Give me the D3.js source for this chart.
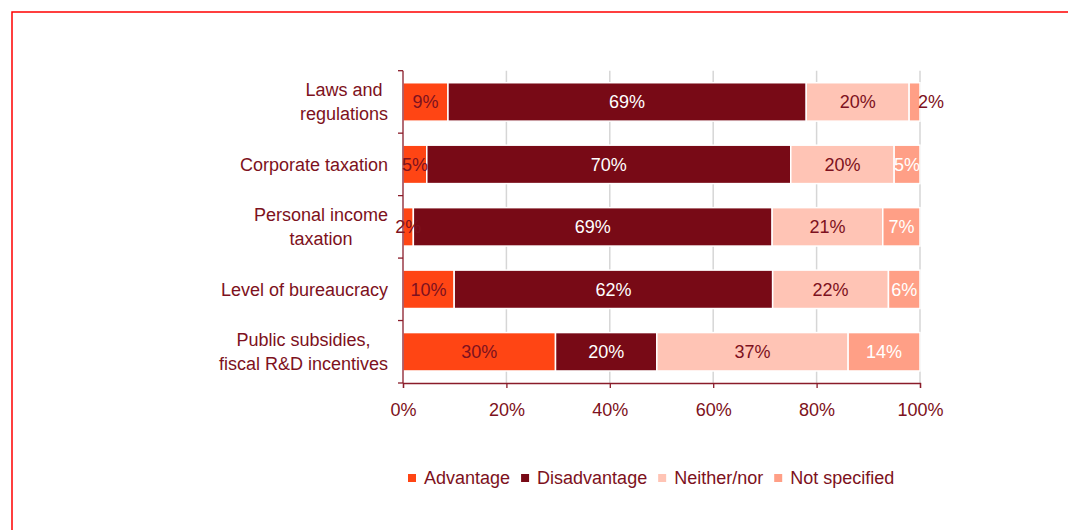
<!DOCTYPE html>
<html>
<head>
<meta charset="utf-8">
<script src="https://cdn.jsdelivr.net/npm/d3@7"></script>
<style>
  html, body { margin: 0; padding: 0; background: #fff; }
  svg { display: block; font-family: "Liberation Sans", Arial, sans-serif; }
</style>
</head>
<body>
<svg id="chart" width="1068" height="530"></svg>
<script>
// Category labels (each entry is a list of text lines)
const categories = [
  ["Laws and", "regulations"],
  ["Corporate taxation"],
  ["Personal income", "taxation"],
  ["Level of bureaucracy"],
  ["Public subsidies,", "fiscal R&D incentives"]
];
const seriesNames = ["Advantage", "Disadvantage", "Neither/nor", "Not specified"];
// Shares in percent, one value per category
const advantage    = [8.7, 4.6, 2.0, 9.9, 29.5];
const disadvantage = [69.3, 70.4, 69.4, 61.6, 19.6];
const neitherNor   = [19.9, 20.0, 21.4, 22.4, 37.0];
const notSpecified = [2.1, 5.0, 7.2, 6.1, 13.9];
const xTicks = [0, 20, 40, 60, 80, 100];

const colors = ["#ff4514", "#780a16", "#ffc4b5", "#ff9f86"];
const labelColors = ["#7d1120", "#ffffff", "#7d1120", "#ffffff"];
const textColor = "#7d1120";
const fontSize = 18;

const svg = d3.select("#chart");

// frame
svg.append("rect")
  .attr("x", 12).attr("y", 12)
  .attr("width", 1100).attr("height", 560)
  .attr("fill", "none").attr("stroke", "#ff0000").attr("stroke-width", 1.5);

const plot = { left: 403, right: 920, top: 70.7, bottom: 383 };

const x = d3.scaleLinear().domain([0, 100]).range([plot.left, plot.right]);
const y = d3.scaleBand()
  .domain(d3.range(categories.length))
  .range([plot.top, plot.bottom])
  .paddingInner(0.385)
  .paddingOuter(0.385 / 2);

const rows = categories.map((c, i) => ({
  i,
  "Advantage": advantage[i],
  "Disadvantage": disadvantage[i],
  "Neither/nor": neitherNor[i],
  "Not specified": notSpecified[i]
}));
const stacked = d3.stack().keys(seriesNames)(rows);

// vertical gridlines
svg.append("g").selectAll("line")
  .data(xTicks.filter(t => t > 0))
  .join("line")
  .attr("x1", d => x(d)).attr("x2", d => x(d))
  .attr("y1", plot.top).attr("y2", plot.bottom)
  .attr("stroke", "#d6d6d6").attr("stroke-width", 1.5);

// bars
const layers = svg.append("g").selectAll("g")
  .data(stacked)
  .join("g")
  .attr("fill", (d, k) => colors[k]);

layers.selectAll("rect")
  .data(d => d)
  .join("rect")
  .attr("x", d => x(d[0]))
  .attr("y", d => y(d.data.i))
  .attr("width", d => x(d[1]) - x(d[0]))
  .attr("height", y.bandwidth())
  .attr("stroke", "#ffffff")
  .attr("stroke-width", 1.5);

// value labels; a narrow last segment gets its label just past the bar end
const labelG = svg.append("g")
  .attr("font-size", fontSize);
stacked.forEach((layer, k) => {
  const isLast = k === stacked.length - 1;
  layer.forEach(d => {
    const v = d[1] - d[0];
    const txt = Math.round(v) + "%";
    const t = labelG.append("text")
      .attr("y", y(d.data.i) + y.bandwidth() / 2)
      .attr("dy", "0.35em")
      .text(txt);
    const w = t.node().getComputedTextLength();
    const segW = x(d[1]) - x(d[0]);
    if (isLast && w > segW * 1.6) {
      t.attr("x", x(d[1]) - 2).attr("text-anchor", "start").attr("fill", textColor);
    } else {
      t.attr("x", (x(d[0]) + x(d[1])) / 2).attr("text-anchor", "middle").attr("fill", labelColors[k]);
    }
  });
});

// y axis line and boundary ticks
const axisG = svg.append("g").attr("stroke", "#8a1c2a").attr("stroke-width", 1.3);
axisG.append("line")
  .attr("x1", plot.left).attr("x2", plot.left)
  .attr("y1", plot.top).attr("y2", plot.bottom);
axisG.selectAll("line.yt")
  .data(d3.range(categories.length + 1))
  .join("line")
  .attr("class", "yt")
  .attr("x1", plot.left - 5).attr("x2", plot.left)
  .attr("y1", i => plot.top + i * y.step())
  .attr("y2", i => plot.top + i * y.step());

// x axis
const xAxis = d3.axisBottom(x)
  .tickValues(xTicks)
  .tickSize(5)
  .tickPadding(15)
  .tickFormat(d => d + "%");
const xg = svg.append("g")
  .attr("transform", `translate(0,${plot.bottom})`)
  .call(xAxis);
xg.select(".domain").attr("stroke", "#8a1c2a").attr("stroke-width", 1.3);
xg.selectAll(".tick line").attr("stroke", "#8a1c2a").attr("stroke-width", 1.3);
xg.selectAll(".tick text")
  .attr("fill", textColor)
  .attr("font-size", fontSize)
  .attr("font-family", "Liberation Sans, Arial, sans-serif");

// category labels
const catG = svg.append("g").attr("font-size", fontSize).attr("fill", textColor);
const labelRight = 388;
categories.forEach((lines, i) => {
  const cy = y(i) + y.bandwidth() / 2;
  const g = catG.append("g");
  const texts = lines.map((ln, j) => g.append("text")
    .attr("y", cy + (j - (lines.length - 1) / 2) * 24)
    .attr("dy", "0.35em")
    .text(ln));
  if (lines.length === 1) {
    texts[0].attr("x", labelRight).attr("text-anchor", "end");
  } else {
    const maxW = d3.max(texts, t => t.node().getComputedTextLength());
    texts.forEach(t => t.attr("x", labelRight - maxW / 2).attr("text-anchor", "middle"));
  }
});

// legend
const legend = svg.append("g").attr("font-size", fontSize);
let lx = 408;
const ly = 478;
seriesNames.forEach((name, k) => {
  legend.append("rect")
    .attr("x", lx).attr("y", ly - 4)
    .attr("width", 8).attr("height", 8)
    .attr("fill", colors[k]);
  const t = legend.append("text")
    .attr("x", lx + 16).attr("y", ly)
    .attr("dy", "0.35em")
    .attr("fill", textColor)
    .text(name);
  lx += 16 + t.node().getComputedTextLength() + 11;
});
</script>
</body>
</html>
